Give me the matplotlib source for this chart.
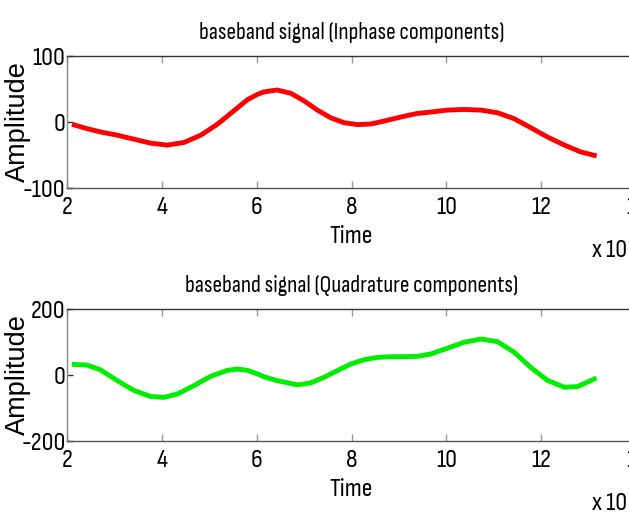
import matplotlib
matplotlib.use('Agg')
import matplotlib.pyplot as plt

# time axis in units of 1e7
t_inphase = [2.155, 2.42, 2.70, 3.06, 3.41, 3.76, 4.11, 4.47, 4.82, 5.17, 5.52, 5.81,
             6.02, 6.15, 6.43, 6.72, 7.00, 7.28, 7.56, 7.84, 8.13, 8.41, 8.69, 9.04,
             9.39, 9.67, 10.02, 10.37, 10.73, 11.08, 11.43, 11.78, 12.14, 12.49, 12.84, 13.12]
inphase = [-4.5, -10, -15, -20, -26, -32, -35, -31, -20, -3.5, 17, 34,
           42, 45.5, 48.5, 43.5, 32, 18, 6.5, -1, -4, -3, 1.5, 7.6,
           13, 15, 18, 19, 18, 14, 5, -8.6, -23, -35, -45.5, -50.5]

t_quad = [2.155, 2.42, 2.70, 3.06, 3.41, 3.76, 4.04, 4.33, 4.68, 5.03, 5.38, 5.59,
          5.81, 6.02, 6.15, 6.43, 6.86, 7.14, 7.42, 7.70, 7.98, 8.27, 8.55, 8.83,
          9.11, 9.39, 9.67, 10.02, 10.37, 10.73, 11.08, 11.43, 11.78, 12.14, 12.49,
          12.77, 13.12]
quad = [32, 30, 16, -17, -47, -65, -68, -57.5, -32, -4, 14, 18,
        14, 3, -5, -17, -30, -24, -7, 13, 33, 46.5, 53.5, 55.5,
        55.5, 56.5, 63.6, 81, 99, 109, 101, 69, 23, -17, -37,
        -35, -12]

xticks = [2, 4, 6, 8, 10, 12, 14]

narrow = ['Sofia Sans Condensed', 'DejaVu Sans']
wide = ['Liberation Sans', 'DejaVu Sans']


def draw_panel(ax, t, y, color, ylim, title):
    ax.plot(t, y, color=color, linewidth=3.5, solid_joinstyle='round')
    ax.set_xlim(2, 14)
    ax.set_ylim(*ylim)
    ax.set_xticks(xticks)
    ax.set_yticks([ylim[0], 0, ylim[1]])
    ax.set_yticklabels([str(ylim[0]), '0', str(ylim[1])], family=narrow, fontsize=19)
    ax.set_xticklabels([str(v) for v in xticks], family=narrow, fontsize=19)
    ax.tick_params(direction='in', length=5, width=1, color='#999999',
                   top=True, right=True)
    ax.tick_params(axis='x', pad=6)
    ax.tick_params(axis='y', color='#333333', length=4, pad=1)
    for s in ax.spines.values():
        s.set_color('#333333')
        s.set_linewidth(1.0)
    ax.spines['left'].set_color('#888888')
    ax.spines['bottom'].set_color('#555555')
    ax.set_title(title, family=narrow, fontsize=17, pad=12)
    ax.set_xlabel('Time', family=narrow, fontsize=19)
    ax.xaxis.set_label_coords(0.5, -0.28)
    ax.set_ylabel('Amplitude', family=wide, fontsize=19.5)
    ax.yaxis.set_label_coords(-0.064, 0.5)
    # axis multiplier, as MATLAB puts it under the x axis
    ax.text(0.922, -0.47, 'x 10', transform=ax.transAxes, family=narrow,
            fontsize=19, ha='left', va='center')
    ax.text(0.99, -0.36, '7', transform=ax.transAxes, family=narrow,
            fontsize=13, ha='left', va='center')


fig = plt.figure(figsize=(6.29, 5.15), dpi=100)
ax1 = fig.add_axes([67 / 629, 1 - 188 / 515, 569 / 629, 132 / 515])
ax2 = fig.add_axes([67 / 629, 1 - 441 / 515, 569 / 629, 132 / 515])

draw_panel(ax1, t_inphase, inphase, '#ff0000', (-100, 100),
           'baseband signal (Inphase components)')
draw_panel(ax2, t_quad, quad, '#00ee00', (-200, 200),
           'baseband signal (Quadrature components)')

fig.savefig('out.png', dpi=100)
